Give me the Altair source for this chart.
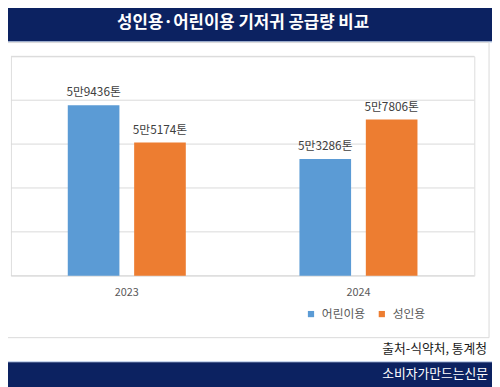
import altair as alt
import pandas as pd

years = ["2023", "2023", "2024", "2024"]
series = ["어린이용", "성인용", "어린이용", "성인용"]
values = [59436, 55174, 53286, 57806]
labels = ["5만9436톤", "5만5174톤", "5만3286톤", "5만7806톤"]
series_order = ["어린이용", "성인용"]
colors = ["#5b9bd5", "#ed7d31"]
grid_values = [40000, 45000, 50000, 55000, 60000, 65000]

title_text = "성인용·어린이용 기저귀 공급량 비교"
source_text = "출처-식약처, 통계청"
brand_text = "소비자가만드는신문"

FONT = "Noto Sans CJK KR"
NAVY = "#0c2261"

df = pd.DataFrame({"year": years, "series": series, "value": values, "label": labels})
grid_df = pd.DataFrame({"g": grid_values})

y_scale = alt.Scale(domain=[40000, 65000], zero=False, nice=False, clamp=True)

x_enc = alt.X("year:N", scale=alt.Scale(paddingInner=0, paddingOuter=0),
              axis=alt.Axis(title=None, domain=False, ticks=False, labelAngle=0,
                            labelPadding=11, labelFontSize=11, labelColor="#595959",
                            labelFont=FONT, grid=False))
xo_enc = alt.XOffset("series:N", sort=series_order,
                     scale=alt.Scale(paddingInner=0.222, paddingOuter=0.856))
y_enc = alt.Y("value:Q", scale=y_scale, axis=None)

grid = alt.Chart(grid_df).mark_rule(color="#d9d9d9", strokeWidth=1).encode(
    y=alt.Y("g:Q", scale=y_scale, axis=None),
    x=alt.value(0), x2=alt.value(471),
)

bars = alt.Chart(df).mark_bar().encode(
    x=x_enc, xOffset=xo_enc, y=y_enc,
    color=alt.Color("series:N", sort=series_order,
                    scale=alt.Scale(domain=series_order, range=colors),
                    legend=alt.Legend(title=None, orient="none", legendX=299, legendY=256,
                                      direction="horizontal", symbolType="square",
                                      symbolSize=40, labelFontSize=12, labelFont=FONT,
                                      labelColor="#595959", labelOffset=5, columnPadding=10,
                                      symbolOpacity=1)),
)

text = alt.Chart(df).mark_text(baseline="alphabetic", dy=-9, fontSize=12, font=FONT,
                               color="#404040").encode(
    x=x_enc, xOffset=xo_enc, y=y_enc,
    text="label:N",
)

one = pd.DataFrame({"k": [0]})
deco_base = alt.Chart(one)

title_bar = deco_base.mark_rect(color=NAVY).encode(
    x=alt.value(-10), x2=alt.value(495), y=alt.value(-50), y2=alt.value(-15))
title_line = deco_base.mark_rect(color="#b4c7e7").encode(
    x=alt.value(-10), x2=alt.value(495), y=alt.value(-15), y2=alt.value(-14))
box = deco_base.mark_rect(fillOpacity=0, stroke="#d9d9d9", strokeWidth=1).encode(
    x=alt.value(-10), x2=alt.value(486), y=alt.value(-14), y2=alt.value(286))
title_txt = deco_base.mark_text(text=title_text, color="white", fontSize=17,
                                fontWeight="bold", font=FONT, baseline="middle",
                                align="center").encode(x=alt.value(236), y=alt.value(-34))
source_txt = deco_base.mark_text(text=source_text, color="#1a1a1a", fontSize=13,
                                 font=FONT, baseline="middle", align="right").encode(
    x=alt.value(484), y=alt.value(298))
footer_bar = deco_base.mark_rect(color=NAVY).encode(
    x=alt.value(-10), x2=alt.value(495), y=alt.value(311), y2=alt.value(340))
footer_line = deco_base.mark_rect(color="#b4c7e7").encode(
    x=alt.value(-10), x2=alt.value(495), y=alt.value(310), y2=alt.value(311))
brand_txt = deco_base.mark_text(text=brand_text, color="white", fontSize=13,
                                font=FONT, baseline="middle", align="right").encode(
    x=alt.value(485), y=alt.value(323))

chart = alt.layer(
    title_bar, title_line, box, grid, bars, text, title_txt, source_txt,
    footer_line, footer_bar, brand_txt
).properties(
    width=471, height=223,
    autosize=alt.AutoSizeParams(type="none"),
    padding={"left": 3, "top": 46, "right": 18, "bottom": 110},
).configure_view(stroke="transparent", strokeWidth=0).configure_axis(
    domain=False, ticks=False
).configure(background="white")

chart.save("out.html", embed_options={"renderer": "svg", "actions": False})
